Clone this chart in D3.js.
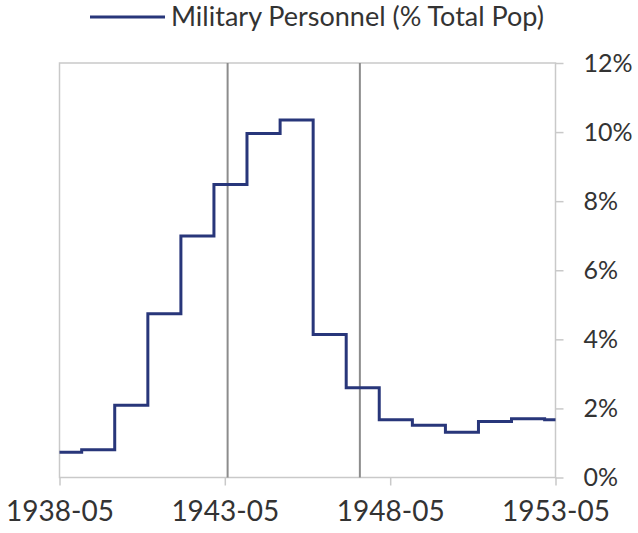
<!DOCTYPE html>
<html>
<head>
<meta charset="utf-8">
<script src="https://cdn.jsdelivr.net/npm/d3@7"></script>
<style>
  html, body { margin: 0; padding: 0; background: #ffffff; }
  svg { display: block; }
  text { font-family: Lato, "Open Sans", sans-serif; fill: #333333; }
</style>
</head>
<body>
<svg id="chart" width="638" height="533"></svg>
<script>
// ---- data ----
const stepDates = ["1938-05-01","1939-01-01","1940-01-01","1941-01-01","1942-01-01","1943-01-01",
                   "1944-01-01","1945-01-01","1946-01-01","1947-01-01","1948-01-01","1949-01-01",
                   "1950-01-01","1951-01-01","1952-01-01","1953-01-01","1953-05-01"];
const militaryPct = [0.73, 0.80, 2.09, 4.74, 6.99, 8.48, 9.96, 10.35, 4.14, 2.60, 1.67, 1.51,
                     1.31, 1.62, 1.70, 1.67, 1.67];
const xTickLabels = ["1938-05", "1943-05", "1948-05", "1953-05"];
const yTickValues = [0, 2, 4, 6, 8, 10, 12];
const markerDates = ["1943-06-01", "1947-06-01"];
const seriesName = "Military Personnel (% Total Pop)";

// ---- layout ----
const svg = d3.select("#chart");
const m = { left: 59.5, right: 555.5, top: 63, bottom: 477.5 };
const parse = d3.timeParse("%Y-%m-%d");
const parseTick = d3.timeParse("%Y-%m");

const x = d3.scaleTime()
  .domain([parseTick("1938-05"), parseTick("1953-05")])
  .range([m.left, m.right]);
const y = d3.scaleLinear().domain([0, 12]).range([m.bottom, m.top]);

const data = stepDates.map((d, i) => ({ date: parse(d), v: militaryPct[i] }));

// plot frame
svg.append("rect")
  .attr("x", m.left).attr("y", m.top)
  .attr("width", m.right - m.left).attr("height", m.bottom - m.top)
  .attr("fill", "none").attr("stroke", "#c9c9c9").attr("stroke-width", 1.5);

// marker lines
svg.selectAll("line.marker").data(markerDates).enter().append("line")
  .attr("class", "marker")
  .attr("x1", d => x(parse(d))).attr("x2", d => x(parse(d)))
  .attr("y1", m.top).attr("y2", m.bottom)
  .attr("stroke", "#8c8c8c").attr("stroke-width", 2);

// x axis
const xAxis = d3.axisBottom(x)
  .tickValues(xTickLabels.map(parseTick))
  .tickFormat(d3.timeFormat("%Y-%m"))
  .tickSizeOuter(0).tickSize(8).tickPadding(16);
const gx = svg.append("g").attr("transform", `translate(0,${m.bottom})`).call(xAxis);
gx.select(".domain").remove();
gx.selectAll(".tick line").attr("stroke", "#c9c9c9").attr("stroke-width", 1.5);
gx.selectAll(".tick text").attr("font-size", 28).attr("fill", "#2e2e2e");

// y axis (right)
const yAxis = d3.axisRight(y)
  .tickValues(yTickValues)
  .tickFormat(d => d + "%")
  .tickSizeOuter(0).tickSize(8).tickPadding(20);
const gy = svg.append("g").attr("transform", `translate(${m.right},0)`).call(yAxis);
gy.select(".domain").remove();
gy.selectAll(".tick line").attr("stroke", "#c9c9c9").attr("stroke-width", 1.5);
gy.selectAll(".tick text").attr("font-size", 25).attr("fill", "#2e2e2e");

// series
const line = d3.line()
  .x(d => x(d.date)).y(d => y(d.v))
  .curve(d3.curveStepAfter);
svg.append("path").datum(data)
  .attr("d", line)
  .attr("fill", "none").attr("stroke", "#28367a").attr("stroke-width", 3)
  .attr("stroke-linejoin", "miter");

// legend
const lg = svg.append("g");
lg.append("line").attr("x1", 90).attr("x2", 165).attr("y1", 17).attr("y2", 17)
  .attr("stroke", "#28367a").attr("stroke-width", 3);
lg.append("text").attr("x", 171).attr("y", 26).attr("font-size", 27)
  .attr("fill", "#2e2e2e").text(seriesName);
</script>
</body>
</html>
